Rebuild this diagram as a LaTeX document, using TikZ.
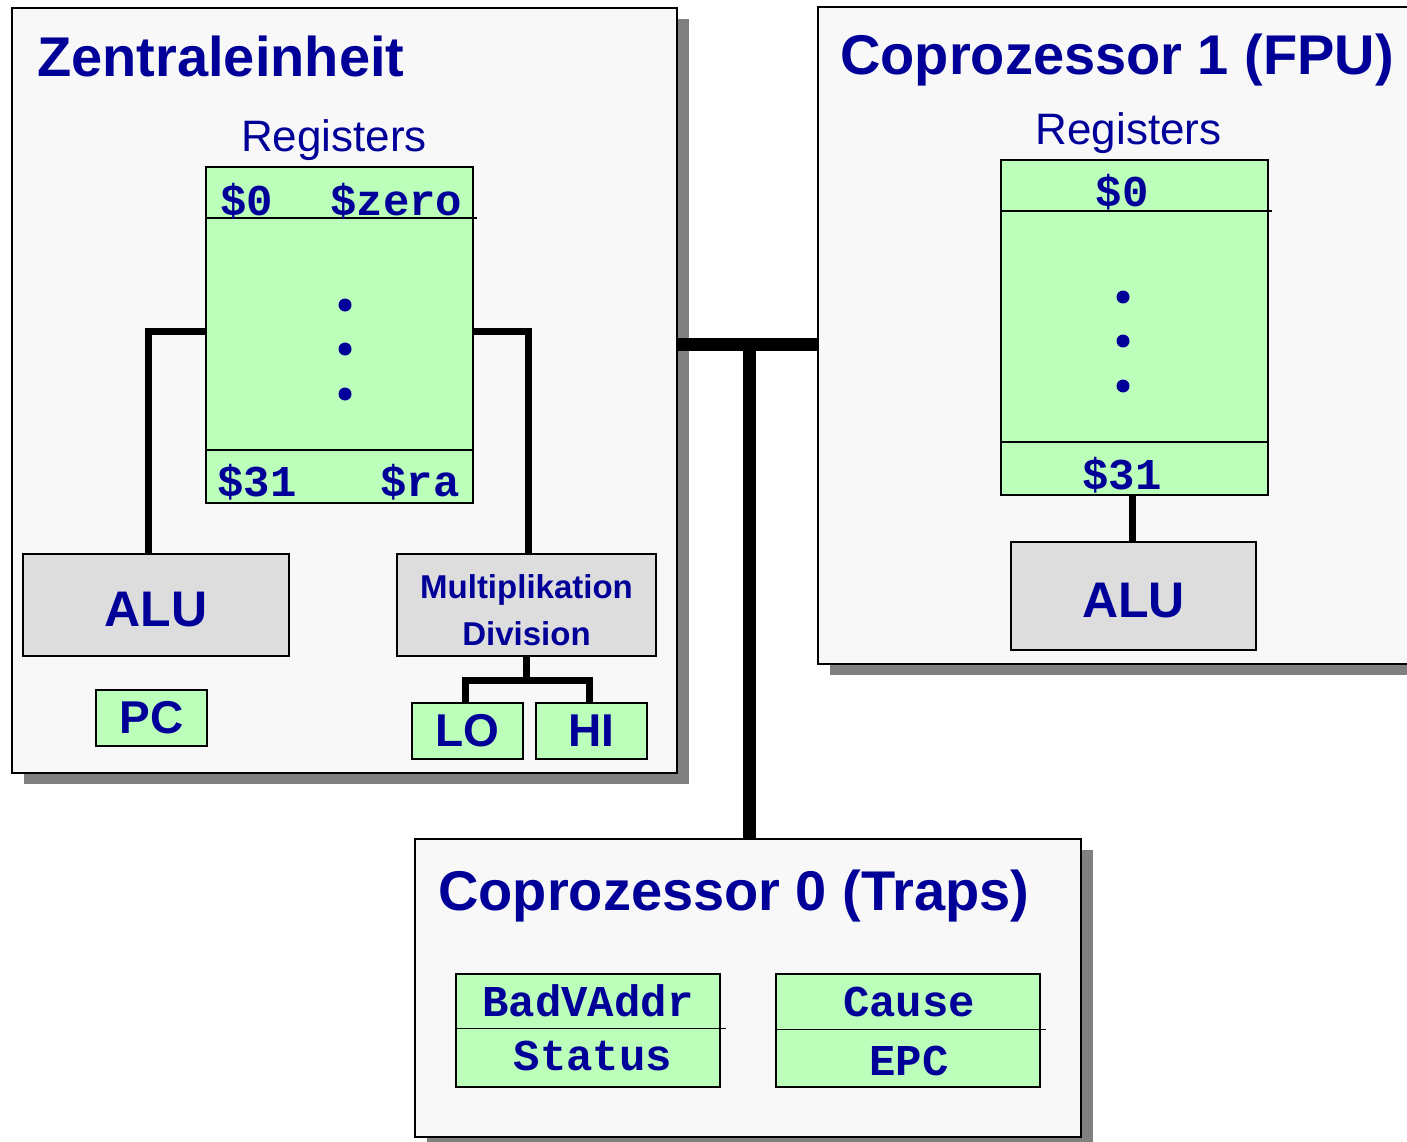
\documentclass[tikz,border=0pt]{standalone}
\usepackage{fontspec}
\setmainfont{Liberation Sans}
\setmonofont{Liberation Mono}
\usetikzlibrary{shadows}
\definecolor{ink}{RGB}{0,0,153}
\definecolor{reggreen}{RGB}{187,255,187}
\definecolor{unitgray}{RGB}{221,221,221}
\definecolor{panelbg}{RGB}{248,248,248}
\definecolor{shadowgray}{RGB}{128,128,128}
\newcommand{\pxsize}[1]{\fontsize{#1}{#1}\selectfont}
\tikzset{%
  panel/.style = {rectangle,draw,line width=1.5pt,fill=panelbg,
        drop shadow={shadow xshift=12pt,shadow yshift=-11pt,
        fill=shadowgray,opacity=1}},
  regs/.style = {rectangle,draw,line width=1.6pt,fill=reggreen},
  unit/.style = {rectangle,draw,line width=1.6pt,fill=unitgray,
        text=ink,font=\bfseries\pxsize{50},text height=43pt,text depth=0pt},
  row/.style = {line width=1.6pt},
  title/.style = {anchor=base west,inner sep=0pt,text=ink,
        font=\bfseries\pxsize{56}},
  caption/.style = {anchor=base,inner sep=0pt,text=ink,font=\pxsize{44}},
  reg/.style = {inner sep=0pt,text=ink,font=\ttfamily\bfseries\pxsize{44}},
  wire/.style = {line width=7pt},
  bus/.style = {line width=13pt}
}

\begin{document}
\begin{tikzpicture}[x=1pt,y=-1pt]
  \useasboundingbox (0,0) rectangle (1407,1142);
  \node[panel,minimum width=665pt,minimum height=765pt] (cpu) at (344.5,390.5) {};
  \node[panel,minimum width=602pt,minimum height=657pt] (fpu) at (1119,335.5) {};
  \node[panel,minimum width=666pt,minimum height=298pt] (trap) at (748,988) {};
  \node[title] (cputitle) at (37,77) {Zentraleinheit};
  \node[title] (fputitle) at (840,75) {Coprozessor 1 (FPU)};
  \node[title] (traptitle) at (438,910) {Coprozessor 0 (Traps)};

  % Zentraleinheit
  \node[caption] (cpucap) at (334,152) {Registers};
  \node[regs,minimum width=267pt,minimum height=336pt] (cpureg) at (339.5,335) {};
  \draw[row] ([yshift=-52pt]cpureg.north west) -- ([yshift=-52pt,xshift=3pt]cpureg.north east);
  \draw[row] ([yshift=54pt]cpureg.south west) -- ([yshift=54pt]cpureg.south east);
  \node[reg,anchor=base west] (rzero) at (220,215) {\$0};
  \node[reg,anchor=base west] (rzeroname) at (330,215) {\$zero};
  \node[reg,anchor=base west] (rlast) at (217,496) {\$31};
  \node[reg,anchor=base west] (rlastname) at (380,496) {\$ra};
  \foreach \y in {305,349,394}
    \fill[ink] (345,\y) circle[radius=6.5pt];
  \node[unit,minimum width=266pt,minimum height=102pt] (cpualu) at (156,605) {ALU};
  \node[unit,minimum width=259pt,minimum height=102pt] (muldiv) at (526.5,605) {};
  \node[caption,font=\bfseries\pxsize{33}] (multext) at (526.5,598) {Multiplikation};
  \node[caption,font=\bfseries\pxsize{33}] (divtext) at (526.5,645) {Division};
  \node[regs,text=ink,font=\bfseries\pxsize{46},minimum width=111pt,
    minimum height=56pt] (pc) at (151.5,718) {PC};
  \node[regs,text=ink,font=\bfseries\pxsize{46},minimum width=111pt,
    minimum height=56pt] (lo) at (467.5,731) {\raisebox{-3pt}{LO}};
  \node[regs,text=ink,font=\bfseries\pxsize{46},minimum width=111pt,
    minimum height=56pt] (hi) at (591.5,731) {\raisebox{-2pt}{HI}};
  \draw[wire] ([yshift=4pt]cpureg.west) -| ([xshift=-8pt]cpualu.north);
  \draw[wire] ([yshift=4pt]cpureg.east) -| ([xshift=2pt]muldiv.north);
  \draw[wire] (muldiv.south) -- ([yshift=-24pt]muldiv.south);
  \draw[wire] ([xshift=-2pt]lo.north) |- ([yshift=-24pt]muldiv.south)
    -| ([xshift=-2pt]hi.north);

  % Coprozessor 1
  \node[caption] (fpucap) at (1128.5,145) {Registers};
  \node[regs,minimum width=267pt,minimum height=335pt] (fpureg) at (1134.5,327.5) {};
  \draw[row] ([yshift=-52pt]fpureg.north west) -- ([yshift=-52pt,xshift=3pt]fpureg.north east);
  \draw[row] ([yshift=54pt]fpureg.south west) -- ([yshift=54pt]fpureg.south east);
  \node[reg,anchor=base] (fzero) at (1122,207) {\$0};
  \node[reg,anchor=base] (flast) at (1122,489) {\$31};
  \foreach \y in {297,341,386}
    \fill[ink] (1123,\y) circle[radius=6.5pt];
  \node[unit,minimum width=245pt,minimum height=108pt] (fpualu) at (1133.5,596) {ALU};
  \draw[wire] ([xshift=-2pt]fpureg.south) -- ([xshift=-2pt]fpureg.south |- fpualu.north);

  % Coprozessor 0
  \node[regs,minimum width=264pt,minimum height=113pt] (badstat) at (588,1030.5) {};
  \node[regs,minimum width=264pt,minimum height=113pt] (causeepc) at (908,1030.5) {};
  \draw[row] ([yshift=2pt]badstat.west) -- ([yshift=2pt,xshift=5pt]badstat.east);
  \draw[row] ([yshift=1pt]causeepc.west) -- ([yshift=1pt,xshift=5pt]causeepc.east);
  \node[reg,anchor=base] (badvaddr) at (588,1016) {BadVAddr};
  \node[reg,anchor=base] (status) at (593,1070) {Status};
  \node[reg,anchor=base] (cause) at (909,1016) {Cause};
  \node[reg,anchor=base] (epc) at (909,1075) {EPC};

  % bus
  \coordinate (busjoint) at (749,344);
  \draw[bus] (busjoint -| cpu.east) -- (busjoint -| fpu.west);
  \draw[bus] (busjoint) -- (busjoint |- trap.north);
\end{tikzpicture}
\end{document}
